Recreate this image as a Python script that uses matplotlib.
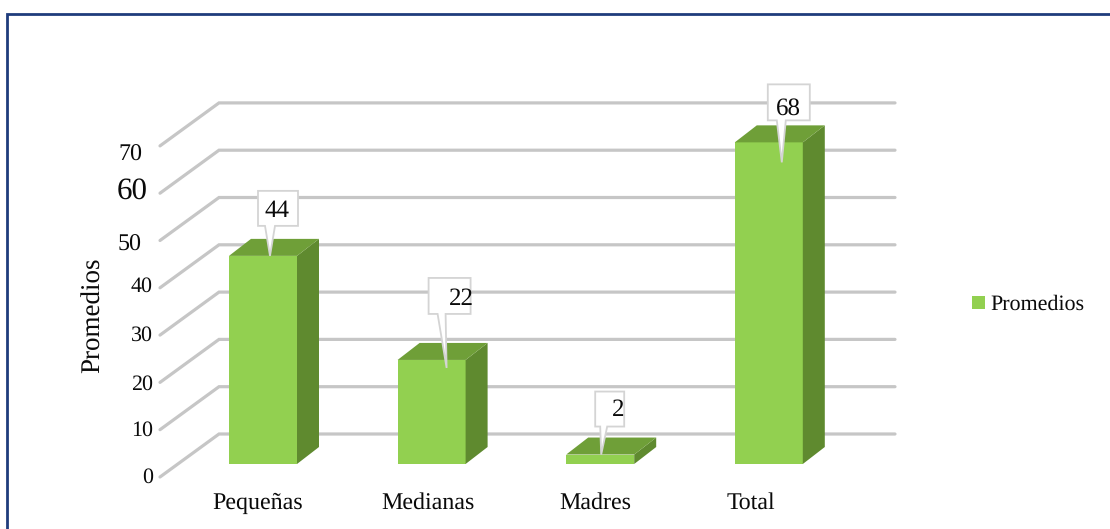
import matplotlib
matplotlib.use('Agg')
import matplotlib.pyplot as plt
from matplotlib.patches import Polygon, Rectangle

categories = ['Pequeñas', 'Medianas', 'Madres', 'Total']
valores = [44, 22, 2, 68]
ticks = [0, 10, 20, 30, 40, 50, 60, 70]
serie = 'Promedios'

# the tick labels are uneven in the original: size, right edge px, centre y px
tick_size = [16, 16, 16, 16, 16, 17.5, 22, 17.5]
tick_right = [153, 153, 153, 153, 153, 142, 148, 142]
tick_y = [475, 428, 382, 333, 284, 242, 188, 152]
cat_shift = [-5, -4, -5, -18]

# callouts, pixels from bar left / bar top:
# box left, box right, box bottom, box top, tail left, tail right, tip x, tip depth, text x, text y
boxes = [(29, 69, 30, 65, 36, 46, 41, 0, 48, 48),
         (31, 73, 46, 82, 40, 48, 49, 8, 64, 64),
         (29, 58, 28, 63, 34, 41, 35, 0, 52, 47),
         (33, 75, 22, 58, 42, 51, 47, 20, 54, 36)]

W, H = 1110, 529
px_x = 168.6   # pixels per category
px_y = 4.73    # pixels per unit of value
x0, y0 = 263, 464  # where category 0 and value 0 land
ancho = 68 / px_x
dx, dy = 22 / px_x, 17 / px_y

plt.rcParams['font.family'] = ['Liberation Serif', 'DejaVu Serif']
plt.rcParams['text.hinting'] = 'no_hinting'
plt.rcParams['text.hinting_factor'] = 1
fig = plt.figure(figsize=(W / 100, H / 100), dpi=100)
ax = fig.add_axes([0, 0, 1, 1])
ax.set_xlim(-x0 / px_x, (W - x0) / px_x)
ax.set_ylim((y0 - H) / px_y, y0 / px_y)
ax.axis('off')


def X(p):
    return (p - x0) / px_x


def Y(p):
    return (y0 - p) / px_y


# outer frame, only left and top are in the picture
fig.add_artist(Rectangle((7 / W, -0.02), 1.02, 1 - 14 / H + 0.02, fill=False,
                         ec='#1f3c7c', lw=2, transform=fig.transFigure))

# grid with the 3d floor side
gx = [X(160), X(219), X(895)]
back = 30 / px_y
front = -13 / px_y
for t in ticks:
    ax.plot(gx, [t + front, t + back, t + back], c='#c6c6c6', lw=2.3, zorder=1,
            solid_capstyle='round', solid_joinstyle='miter')

for t, s, r, yy in zip(ticks, tick_size, tick_right, tick_y):
    ax.text(X(r), Y(yy), str(t), ha='right', va='center_baseline', fontsize=s, color='#0a0a0a')

for i, (c, v) in enumerate(zip(categories, valores)):
    l, r = i - ancho / 2, i + ancho / 2
    ax.add_patch(Rectangle((l, 0), ancho, v, fc='#92d050', ec='none', zorder=3))
    ax.add_patch(Polygon([(r, 0), (r + dx, dy), (r + dx, v + dy), (r, v)], fc='#5f8a2f', ec='none', zorder=3))
    ax.add_patch(Polygon([(l, v), (l + dx, v + dy), (r + dx, v + dy), (r, v)], fc='#6f9f38', ec='none', zorder=3))
    ax.text(i + cat_shift[i] / px_x, Y(503), c, ha='center', va='center', fontsize=17, color='#0a0a0a')

    # callout with data label
    a, b, bot, top, t1, t2, tip, depth, tx, ty = boxes[i]
    px = lambda p: l + p / px_x
    py = lambda p: v + p / px_y
    ax.add_patch(Polygon([(px(a), py(bot)), (px(t1), py(bot)), (px(tip), py(-depth)), (px(t2), py(bot)),
                          (px(b), py(bot)), (px(b), py(top)), (px(a), py(top))],
                         fc='white', ec='#d4d4d4', lw=1.3, zorder=4))
    ax.text(px(tx), py(ty), str(v), ha='center', va='center_baseline',
            fontsize=18, color='#0a0a0a', zorder=5)

# legend
ax.add_patch(Rectangle((X(972), Y(309)), 13 / px_x, 13 / px_y, fc='#92d050', ec='none'))
ax.text(X(990), Y(304), serie, ha='left', va='center', fontsize=16.2, color='#0a0a0a')

# y axis title
ax.text(X(93), Y(315), serie, rotation=90, ha='center', va='center', fontsize=19.5, color='#0a0a0a')

fig.savefig('out.png', dpi=100)
